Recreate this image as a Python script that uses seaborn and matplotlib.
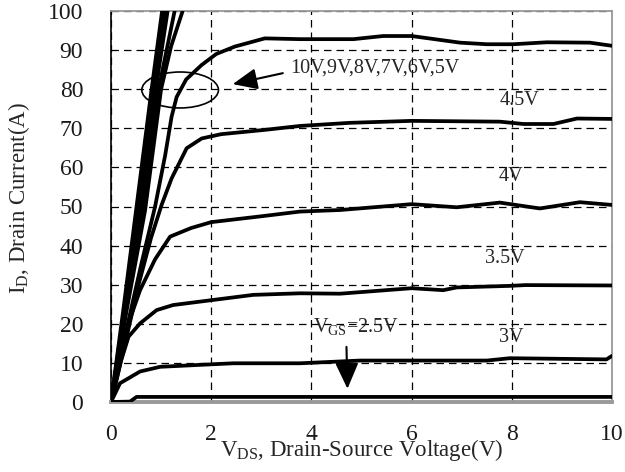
import matplotlib
matplotlib.use("Agg")
import matplotlib.pyplot as plt
import seaborn as sns
import pandas as pd
import numpy as np
from matplotlib.patches import Ellipse

# ---- data ----
vds_10 = [0, 0.25, 0.5, 0.8, 1.02, 1.06]
id_10 = [0, 24, 49, 79, 100, 104]
vds_9 = [0, 0.27, 0.55, 0.84, 1.07, 1.11]
id_9 = [0, 24, 49, 79, 100, 104]
vds_8 = [0, 0.29, 0.6, 0.88, 1.13, 1.17]
id_8 = [0, 24, 49, 79, 100, 104]
vds_7 = [0, 0.3, 0.64, 0.95, 1.27, 1.33]
id_7 = [0, 24, 49, 80, 100, 104]
vds_6 = [0, 0.32, 0.68, 1.0, 1.2, 1.43, 1.5]
id_6 = [0, 24, 49, 80, 91, 100, 103]
vds_5 = [0, 0.3, 0.6, 0.88, 1.08, 1.21, 1.31, 1.5, 1.81, 2.1, 2.47, 3.07, 3.77,
         4.84, 5.43, 6.0, 6.97, 7.5, 8.03, 8.7, 9.56, 10]
id_5 = [0, 18, 35, 50, 63, 73, 78, 82.5, 86.2, 89, 90.9, 93, 92.8,
        92.8, 93.6, 93.6, 91.9, 91.5, 91.5, 92.0, 91.9, 91.1]
vds_45 = [0, 0.3, 0.55, 0.8, 1.01, 1.21, 1.51, 1.81, 2.2, 3.07, 3.77, 4.77,
          6.0, 7.76, 8.23, 8.83, 9.3, 10]
id_45 = [0, 16, 30, 42, 50.4, 57.2, 64.9, 67.4, 68.5, 69.6, 70.6, 71.4,
         71.9, 71.7, 71.1, 71.1, 72.5, 72.4]
vds_4 = [0, 0.2, 0.4, 0.58, 0.88, 1.18, 1.6, 2.0, 3.0, 3.77, 4.57, 6.0, 6.9,
         7.76, 8.56, 9.36, 10]
id_4 = [0, 12, 22, 28.6, 36.5, 42.3, 44.5, 46, 47.5, 48.7, 49.1, 50.6, 49.8,
        51.0, 49.5, 51.1, 50.4]
vds_35 = [0, 0.1, 0.2, 0.35, 0.58, 0.91, 1.24, 2.04, 2.84, 3.77, 4.57, 6.0,
          6.63, 6.9, 7.96, 8.27, 10]
id_35 = [0, 5, 10.5, 16.7, 20.1, 23.5, 24.8, 26.1, 27.4, 27.8, 27.7, 29.1,
         28.6, 29.3, 29.7, 29.9, 29.8]
vds_3 = [0, 0.18, 0.58, 0.98, 1.78, 2.44, 3.77, 4.97, 7.5, 7.96, 9.89, 10]
id_3 = [0, 4.8, 7.8, 9.0, 9.5, 9.9, 9.9, 10.6, 10.6, 11.2, 10.9, 11.8]
vds_25 = [0, 0.38, 0.51, 10]
id_25 = [0, 0.1, 1.3, 1.3]

series = [("10V", vds_10, id_10), ("9V", vds_9, id_9), ("8V", vds_8, id_8),
          ("7V", vds_7, id_7), ("6V", vds_6, id_6), ("5V", vds_5, id_5),
          ("4.5V", vds_45, id_45), ("4V", vds_4, id_4), ("3.5V", vds_35, id_35),
          ("3V", vds_3, id_3), ("2.5V", vds_25, id_25)]

labels = ["4.5V", "4V", "3.5V", "3V"]
label_x = [8.16, 7.98, 7.87, 7.98]
label_y = [77.2, 57.8, 36.8, 16.4]

xticks = [0, 2, 4, 6, 8, 10]
yticks = [0, 10, 20, 30, 40, 50, 60, 70, 80, 90, 100]

rows = []
for name, xs, ys in series:
    for i, (a, b) in enumerate(zip(xs, ys)):
        rows.append({"vgs": name, "order": i, "vds": a, "id": b})
df = pd.DataFrame(rows)

sns.set_style("white")
plt.rcParams["font.family"] = ["Liberation Serif", "DejaVu Serif"]
plt.rcParams["mathtext.fontset"] = "custom"
plt.rcParams["mathtext.rm"] = "Liberation Serif"
plt.rcParams["mathtext.it"] = "Liberation Serif:italic"

fig = plt.figure(figsize=(6.25, 4.72), dpi=100)
ax = fig.add_axes([111 / 625, 70 / 472, 501 / 625, 391 / 472])

sns.lineplot(data=df, x="vds", y="id", units="vgs", estimator=None, sort=False,
             color="black", linewidth=2.7, ax=ax, legend=False, zorder=3)

ax.set_xlim(0, 10)
ax.set_ylim(0, 100)
ax.set_xticks(xticks)
ax.set_yticks(yticks)
ax.tick_params(axis="both", length=0, labelsize=17, colors="#1a1a1a")
ax.tick_params(axis="x", pad=16)
ax.tick_params(axis="y", pad=20)

ax.grid(True, color="black", linestyle=(0, (6, 4)), linewidth=0.9)
ax.set_axisbelow(True)

for s in ["top", "right"]:
    ax.spines[s].set_color("#999999")
    ax.spines[s].set_linewidth(1.3)
ax.spines["left"].set_color("black")
ax.spines["left"].set_linewidth(1.2)
ax.spines["bottom"].set_color("#999999")
ax.spines["bottom"].set_linewidth(2.8)

ax.set_xlabel(r"V$_{\mathregular{DS}}$, Drain-Source Voltage(V)", fontsize=16.5,
              va="center")
ax.xaxis.set_label_coords(0.501, -48 / 391)
ax.set_ylabel(r"I$_{\mathregular{D}}$, Drain Current(A)", fontsize=16.5, va="center")
ax.yaxis.set_label_coords(-92 / 501, 0.522)

# ellipse around steep curves
ax.add_patch(Ellipse((1.38, 79.8), 1.53, 9.2, fill=False, edgecolor="black",
                     linewidth=1.2, zorder=4))

ax.annotate("", xy=(2.43, 81.3), xytext=(3.43, 84.1),
            arrowprops=dict(arrowstyle="-|>,head_length=1.5,head_width=0.65",
                            color="black", lw=1.5, shrinkA=0, shrinkB=0))
ax.text(3.57, 85.4, "10V,9V,8V,7V,6V,5V", fontsize=14.5, va="center", ha="left")

for t, x, y in zip(labels, label_x, label_y):
    ax.text(x, y, t, fontsize=14.5, va="center", ha="center")

ax.text(4.03, 19.2, r"V$_{\mathregular{GS}}$=2.5V", fontsize=14.5, va="center", ha="left")
ax.annotate("", xy=(4.72, 3.4), xytext=(4.7, 14.1),
            arrowprops=dict(arrowstyle="-|>,head_length=1.6,head_width=0.72",
                            color="black", lw=1.5, shrinkA=0, shrinkB=0))

fig.savefig("out.png", dpi=100)
